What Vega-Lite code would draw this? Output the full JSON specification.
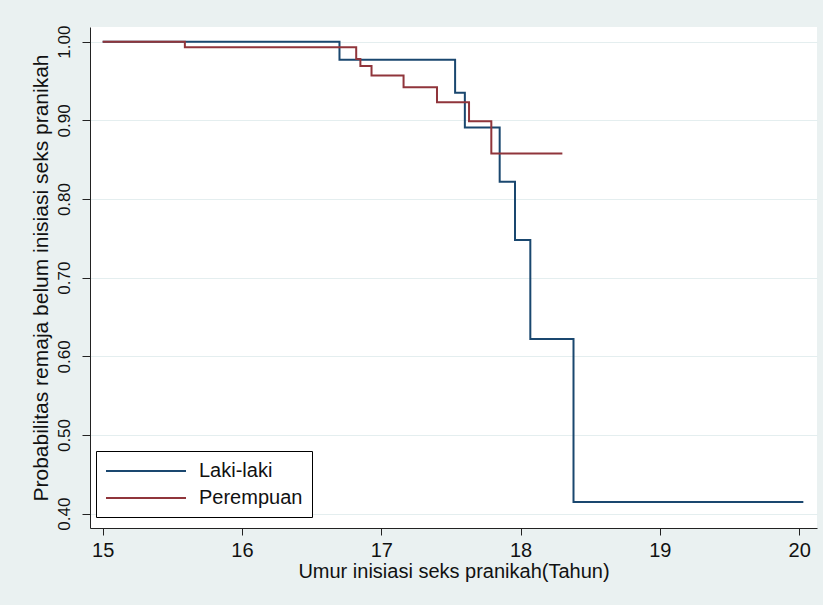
{
  "$schema": "https://vega.github.io/schema/vega-lite/v6.json",
  "width": 727,
  "height": 501,
  "autosize": {"type": "none"},
  "padding": {"left": 90, "top": 27, "right": 6, "bottom": 77},
  "background": "#EAF1F1",
  "view": {"fill": "white", "stroke": null},
  "config": {
    "font": "Liberation Sans",
    "axis": {"domainColor": "#222", "tickColor": "#222", "labelColor": "#111", "titleColor": "#111", "titleFontWeight": "normal", "labelFont": "Liberation Sans", "titleFont": "Liberation Sans"}
  },
  "data": {
    "values": [
      {"t": 15.0, "s": 1.0, "group": "Laki-laki"},
      {"t": 16.70, "s": 0.977, "group": "Laki-laki"},
      {"t": 17.53, "s": 0.935, "group": "Laki-laki"},
      {"t": 17.60, "s": 0.891, "group": "Laki-laki"},
      {"t": 17.85, "s": 0.822, "group": "Laki-laki"},
      {"t": 17.96, "s": 0.748, "group": "Laki-laki"},
      {"t": 18.07, "s": 0.622, "group": "Laki-laki"},
      {"t": 18.38, "s": 0.415, "group": "Laki-laki"},
      {"t": 20.03, "s": 0.415, "group": "Laki-laki"},
      {"t": 15.0, "s": 1.0, "group": "Perempuan"},
      {"t": 15.59, "s": 0.993, "group": "Perempuan"},
      {"t": 16.82, "s": 0.978, "group": "Perempuan"},
      {"t": 16.85, "s": 0.969, "group": "Perempuan"},
      {"t": 16.93, "s": 0.957, "group": "Perempuan"},
      {"t": 17.16, "s": 0.942, "group": "Perempuan"},
      {"t": 17.40, "s": 0.923, "group": "Perempuan"},
      {"t": 17.63, "s": 0.899, "group": "Perempuan"},
      {"t": 17.79, "s": 0.858, "group": "Perempuan"},
      {"t": 18.30, "s": 0.858, "group": "Perempuan"}
    ]
  },
  "mark": {"type": "line", "interpolate": "step-after", "strokeWidth": 2},
  "encoding": {
    "x": {
      "field": "t",
      "type": "quantitative",
      "scale": {"domain": [14.909, 20.128], "nice": false, "zero": false},
      "axis": {
        "title": "Umur inisiasi seks pranikah(Tahun)",
        "values": [15, 16, 17, 18, 19, 20],
        "format": "d",
        "grid": false,
        "tickSize": 7,
        "labelPadding": 5,
        "labelFontSize": 20,
        "titleFontSize": 20,
        "titlePadding": 1
      }
    },
    "y": {
      "field": "s",
      "type": "quantitative",
      "scale": {"domain": [0.3818, 1.0187], "nice": false, "zero": false},
      "axis": {
        "title": "Probabilitas remaja belum inisiasi seks pranikah",
        "values": [0.4, 0.5, 0.6, 0.7, 0.8, 0.9, 1.0],
        "format": ".2f",
        "grid": true,
        "gridColor": "#E4EEEF",
        "gridWidth": 1.2,
        "tickSize": 8,
        "labelAngle": -90,
        "labelAlign": "center",
        "labelBaseline": "alphabetic",
        "labelPadding": 13,
        "labelFontSize": 17,
        "titleFontSize": 21,
        "titlePadding": 4
      }
    },
    "color": {
      "field": "group",
      "type": "nominal",
      "scale": {"domain": ["Laki-laki", "Perempuan"], "range": ["#1a476f", "#90353b"]},
      "legend": {
        "orient": "none",
        "legendX": 6,
        "legendY": 424,
        "title": null,
        "symbolType": "M-1,0H7",
        "symbolSize": 400,
        "symbolStrokeWidth": 2,
        "labelOffset": 72,
        "labelFontSize": 20,
        "labelFont": "Liberation Sans",
        "labelColor": "#111",
        "padding": 9,
        "rowPadding": 6,
        "strokeColor": "#000",
        "fillColor": "#fff"
      }
    }
  }
}
